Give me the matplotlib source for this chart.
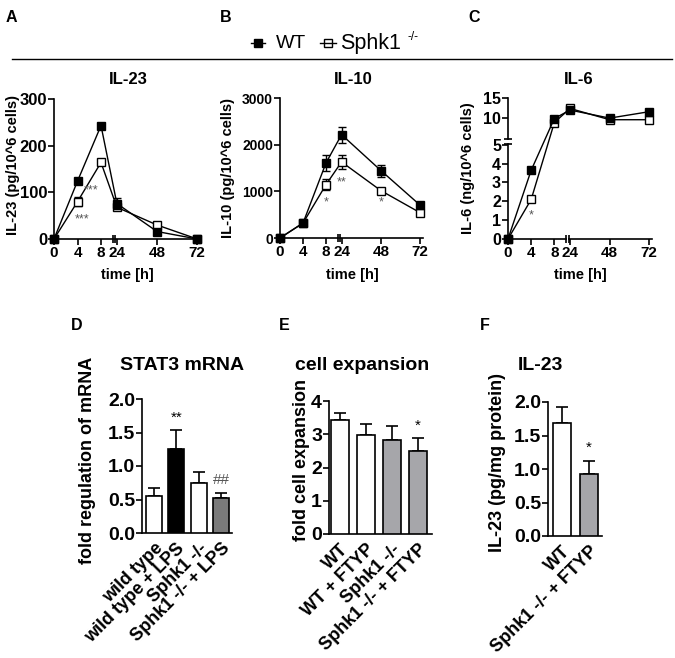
import numpy as np
import matplotlib
matplotlib.use("Agg")
import matplotlib.pyplot as plt
import matplotlib.transforms as mtransforms
from matplotlib.lines import Line2D

plt.rcParams['font.family'] = ['Liberation Sans', 'DejaVu Sans']
plt.rcParams['font.weight'] = 'bold'
plt.rcParams['axes.linewidth'] = 1.2

# time course data (A-C)
times = [0, 4, 8, 24, 48, 72]
time_ticks = [0, 4, 8, 24, 48, 72]

il23_wt = [0, 124, 243, 76, 16, 0]
il23_wt_err = [0, 5, 5, 12, 3, 0]
il23_ko = [0, 80, 164, 68, 30, 0]
il23_ko_err = [0, 10, 6, 6, 4, 0]

il10_wt = [0, 320, 1610, 2215, 1445, 700]
il10_wt_err = [0, 30, 170, 170, 130, 60]
il10_ko = [0, 320, 1145, 1630, 1015, 540]
il10_ko_err = [0, 30, 120, 150, 60, 40]

il6_wt = [0, 3.65, 9.9, 12.0, 10.0, 11.6]
il6_wt_err = [0, 0.1, 0.3, 0.4, 0.3, 0.5]
il6_ko = [0, 2.1, 8.9, 12.4, 9.6, 9.6]
il6_ko_err = [0, 0.15, 0.3, 0.3, 0.2, 0.2]

# significance marks: (time, value, text)
il23_marks = [(4.8, 41, "***"), (8.3, 105, "***")]
il10_marks = [(8, 760, "*"), (24, 1200, "**"), (48, 760, "*")]
il6_marks = [(4, 1.25, "*")]

# bar data (D-F)
stat3_labels = ["wild type", "wild type + LPS", "Sphk1 -/-", "Sphk1 -/- + LPS"]
stat3_vals = [0.55, 1.25, 0.74, 0.515]
stat3_err = [0.115, 0.28, 0.165, 0.085]
stat3_marks = ["", "**", "", "##"]

exp_labels = ["WT", "WT + FTYP", "Sphk1 -/-", "Sphk1 -/- + FTYP"]
exp_vals = [3.44, 2.97, 2.82, 2.50]
exp_err = [0.20, 0.33, 0.43, 0.39]
exp_marks = ["", "", "", "*"]

il23p_labels = ["WT", "Sphk1 -/- + FTYP"]
il23p_vals = [1.685, 0.925]
il23p_err = [0.235, 0.20]
il23p_marks = ["", "*"]

W, H = 675, 658
fig = plt.figure(figsize=(W / 100, H / 100), dpi=100)


def box(x0, x1, ytop, ybot):
    return [x0 / W, 1 - ybot / H, (x1 - x0) / W, (ybot - ytop) / H]


def fx(px):
    return px / W


def fy(py):
    return 1 - py / H


def tpos(t):
    t = np.asarray(t, dtype=float)
    return np.where(t <= 8, t, 10.7 + (t - 24) * 0.285)


def c_pos(y):
    y = np.asarray(y, dtype=float)
    return np.where(y <= 5, y, 5.35 + (y - 5) * 0.2135)


def ident(y):
    return np.asarray(y, dtype=float)


def time_panel(rect, wt, wt_err, ko, ko_err, marks, ymap, ylim, yticks, ylabels, tsize):
    ax = fig.add_axes(rect)
    ax.spines[['top', 'right', 'bottom']].set_visible(False)
    x = tpos(times)
    for vals, errs, face, z in [(ko, ko_err, 'white', 3), (wt, wt_err, 'black', 4)]:
        vals = np.array(vals)
        errs = np.array(errs)
        yp = ymap(vals)
        lo = yp - ymap(vals - errs)
        hi = ymap(vals + errs) - yp
        ax.errorbar(x, yp, yerr=[lo, hi], fmt='none', ecolor='black',
                    elinewidth=1, capsize=3, capthick=1, zorder=z, clip_on=False)
        ax.plot(x, yp, color='black', lw=1, marker='s', ms=6, mfc=face,
                mec='black', mew=1, zorder=z + 1, clip_on=False)
    for t, v, s in marks:
        ax.text(tpos(t), ymap(v), s, ha='center', va='center', fontsize=9,
                fontweight='normal', color='#555555', zorder=10)
    ax.set_xlim(0, 24.85)
    ax.set_ylim(*ylim)
    ax.set_xticks(tpos(time_ticks))
    ax.set_xticklabels([str(t) for t in time_ticks])
    ax.set_yticks(yticks)
    ax.set_yticklabels(ylabels)
    ax.tick_params(direction='out', length=4, width=1.2, labelsize=11, pad=1)
    ax.tick_params(axis='y', labelsize=tsize)
    # broken x axis
    tr = mtransforms.blended_transform_factory(ax.transData, ax.transAxes)
    ax.plot([0, 10.0], [0, 0], color='black', lw=1.2, transform=tr, clip_on=False)
    ax.plot([10.45, 24.85], [0, 0], color='black', lw=1.2, transform=tr, clip_on=False)
    ax.plot([10.0, 10.45], [0, 0], ls='none', marker='|', ms=6, mew=1.2,
            color='black', transform=tr, clip_on=False)
    return ax


axA = time_panel(box(54, 200, 99, 239), il23_wt, il23_wt_err, il23_ko, il23_ko_err,
                 il23_marks, ident, (0, 300), [0, 100, 200, 300],
                 ['0', '100', '200', '300'], 12)
axB = time_panel(box(280, 423, 98, 238), il10_wt, il10_wt_err, il10_ko, il10_ko_err,
                 il10_marks, ident, (0, 3000), [0, 1000, 2000, 3000],
                 ['0', '1000', '2000', '3000'], 10)
c_ticks = [0, 1, 2, 3, 4, 5, 10, 15]
axC = time_panel(box(508, 652, 98, 239), il6_wt, il6_wt_err, il6_ko, il6_ko_err,
                 il6_marks, c_pos, (0, 7.485), c_pos(c_ticks),
                 [str(v) for v in c_ticks], 11.5)
axC.spines['left'].set_visible(False)
trc = mtransforms.blended_transform_factory(axC.transAxes, axC.transData)
axC.plot([0, 0], [0, 5.05], color='black', lw=1.2, transform=trc, clip_on=False)
axC.plot([0, 0], [5.3, 7.485], color='black', lw=1.2, transform=trc, clip_on=False)
axC.plot([0, 0], [5.05, 5.3], ls='none', marker='_', ms=6, mew=1.2,
         color='black', transform=trc, clip_on=False)

top_titles = [("IL-23", 128), ("IL-10", 353), ("IL-6", 579)]
for s, xc in top_titles:
    fig.text(fx(xc), fy(80), s, ha='center', va='center', fontsize=12)
for xc in [127, 352, 580]:
    fig.text(fx(xc), fy(275), "time [h]", ha='center', va='center', fontsize=10.5)
top_ylabels = [("IL-23 (pg/10^6 cells)", 13, 165), ("IL-10 (pg/10^6 cells)", 228, 168),
               ("IL-6 (ng/10^6 cells)", 468, 168)]
for s, xc, yc in top_ylabels:
    fig.text(fx(xc), fy(yc), s, ha='center', va='center', rotation=90, fontsize=10.5)


def bar_panel(rect, labels, vals, errs, marks, colors, xlim, width, ylim, yticks, yfmt,
              mark_colors):
    ax = fig.add_axes(rect)
    ax.spines[['top', 'right']].set_visible(False)
    x = np.arange(len(vals))
    ax.bar(x, vals, width=width, color=colors, edgecolor='black', lw=1.2, zorder=3)
    ax.errorbar(x, vals, yerr=[np.zeros(len(vals)), errs], fmt='none', ecolor='black',
                elinewidth=1.2, capsize=4, capthick=1.2, zorder=2)
    top = ylim[1]
    for xi, v, e, m, mc in zip(x, vals, errs, marks, mark_colors):
        if m:
            ax.text(xi, v + e + 0.04 * top, m, ha='center', va='bottom', fontsize=11,
                    fontweight='normal', color=mc)
    ax.set_xlim(*xlim)
    ax.set_ylim(*ylim)
    ax.set_yticks(yticks)
    ax.set_yticklabels([yfmt.format(v) for v in yticks])
    ax.set_xticks(x)
    ax.set_xticklabels(labels, rotation=45, ha='right', rotation_mode='anchor', fontsize=13)
    ax.tick_params(axis='y', direction='out', length=4, width=1.2, labelsize=14, pad=1)
    ax.tick_params(axis='x', length=0, pad=5)
    return ax


bar_panel(box(142, 232, 399, 533), stat3_labels, stat3_vals, stat3_err, stat3_marks,
          ['white', 'black', 'white', '#7a7a7a'], (-0.54, 3.49), 0.72, (0, 2.0),
          [0, 0.5, 1.0, 1.5, 2.0], "{:.1f}", ['black', 'black', 'black', '#555555'])
bar_panel(box(329, 432, 401, 534), exp_labels, exp_vals, exp_err, exp_marks,
          ['white', 'white', '#a6a6aa', '#a6a6aa'], (-0.42, 3.54), 0.69, (0, 4),
          [0, 1, 2, 3, 4], "{:d}", ['black'] * 4)
bar_panel(box(548, 602, 402, 536), il23p_labels, il23p_vals, il23p_err, il23p_marks,
          ['white', '#a6a6aa'], (-0.52, 1.48), 0.67, (0, 2.0),
          [0, 0.5, 1.0, 1.5, 2.0], "{:.1f}", ['black'] * 2)

bottom_titles = [("STAT3 mRNA", 182), ("cell expansion", 362), ("IL-23", 540)]
for s, xc in bottom_titles:
    fig.text(fx(xc), fy(366), s, ha='center', va='center', fontsize=14)
bottom_ylabels = [("fold regulation of mRNA", 88, 460), ("fold cell expansion", 302, 460),
                  ("IL-23 (pg/mg protein)", 498, 462)]
for s, xc, yc in bottom_ylabels:
    fig.text(fx(xc), fy(yc), s, ha='center', va='center', rotation=90, fontsize=13)

# panel letters
letters = [("A", 11, 17), ("B", 226, 17), ("C", 474, 17),
           ("D", 77, 325), ("E", 284, 325), ("F", 485, 325)]
for s, xc, yc in letters:
    fig.text(fx(xc), fy(yc), s, ha='center', va='center', fontsize=11.5)

# shared legend and separator
fig.add_artist(Line2D([fx(251), fx(265)], [fy(43), fy(43)], color='black', lw=1))
fig.add_artist(Line2D([fx(258)], [fy(43)], ls='none', marker='s', ms=6,
                      mfc='black', mec='black'))
fig.add_artist(Line2D([fx(320), fx(336)], [fy(43), fy(43)], color='black', lw=1))
fig.add_artist(Line2D([fx(328)], [fy(43)], ls='none', marker='s', ms=6,
                      mfc='none', mec='black'))
fig.text(fx(276), fy(43), "WT", ha='left', va='center', fontsize=14, fontweight='normal')
fig.text(fx(340), fy(43), "Sphk1", ha='left', va='center', fontsize=15.5,
         fontweight='normal')
fig.text(fx(407), fy(37), "-/-", ha='left', va='center', fontsize=8.5, fontweight='normal')
fig.add_artist(Line2D([fx(12), fx(672)], [fy(59), fy(59)], color='black', lw=1))

fig.savefig("out.png", dpi=100)
